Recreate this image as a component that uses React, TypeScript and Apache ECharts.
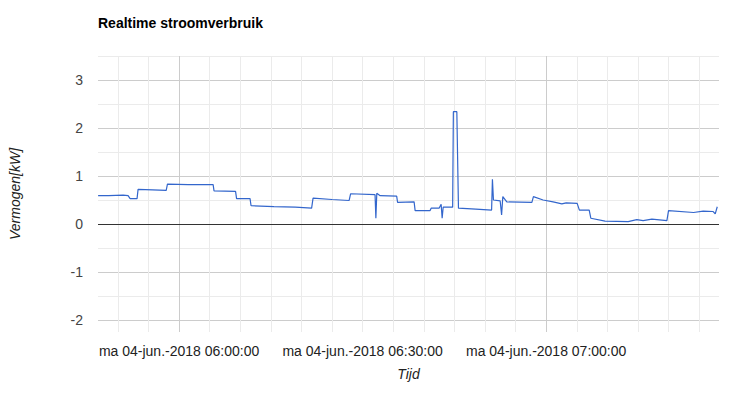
import React, { useEffect, useRef } from "react";
import * as echarts from "echarts";

const TITLE = "Realtime stroomverbruik";
const Y_NAME = "Vermogen[kW]";
const X_NAME = "Tijd";

// sample times (04-jun-2018) and power in kW
const TIMES = [
  "05:46:46", "05:48:30", "05:50:51", "05:51:40", "05:52:00", "05:53:08", "05:53:18", "05:55:40",
  "05:57:54", "05:58:06", "06:01:30", "06:05:34", "06:05:43", "06:09:14", "06:09:24", "06:11:36",
  "06:11:46", "06:15:30", "06:19:00", "06:21:40", "06:21:54", "06:25:00", "06:27:48", "06:28:02",
  "06:32:02", "06:32:10", "06:32:19", "06:32:52", "06:35:34", "06:35:43", "06:38:25", "06:38:35",
  "06:41:02", "06:41:12", "06:42:30", "06:42:50", "06:43:00", "06:43:10", "06:44:43", "06:44:50",
  "06:45:24", "06:45:40", "06:48:30", "06:51:05", "06:51:13", "06:51:23", "06:52:29", "06:52:43",
  "06:52:55", "06:53:34", "06:57:40", "06:57:55", "06:59:30", "07:01:08", "07:02:34", "07:03:16",
  "07:05:04", "07:05:26", "07:07:02", "07:07:18", "07:09:38", "07:13:24", "07:14:49", "07:15:51",
  "07:17:17", "07:19:44", "07:20:00", "07:24:05", "07:25:40", "07:27:18", "07:27:38", "07:27:58",
];
const POWER_KW = [
  0.59, 0.59, 0.6, 0.59, 0.53, 0.53, 0.72, 0.71,
  0.7, 0.83, 0.82, 0.82, 0.69, 0.68, 0.53, 0.53,
  0.38, 0.36, 0.35, 0.33, 0.54, 0.51, 0.49, 0.63,
  0.61, 0.12, 0.64, 0.59, 0.58, 0.45, 0.46, 0.28,
  0.28, 0.33, 0.33, 0.41, 0.12, 0.35, 0.35, 2.34,
  2.34, 0.33, 0.31, 0.29, 0.93, 0.5, 0.48, 0.19,
  0.57, 0.46, 0.45, 0.57, 0.5, 0.46, 0.42, 0.44,
  0.43, 0.29, 0.29, 0.12, 0.06, 0.05, 0.09, 0.07,
  0.1, 0.07, 0.28, 0.24, 0.27, 0.26, 0.21, 0.36,
];

const X_MIN = "05:46:45";
const X_MAX = "07:28:15";
const TICK_TIMES = ["06:00:00", "06:30:00", "07:00:00"];
const TICK_LABELS = [
  "ma 04-jun.-2018 06:00:00",
  "ma 04-jun.-2018 06:30:00",
  "ma 04-jun.-2018 07:00:00",
];
const Y_MIN = -2.25;
const Y_MAX = 3.5;

// minutes relative to 06:00
const toMin = (t: string) => {
  const [h, m, s] = t.split(":").map(Number);
  return h * 60 + m + s / 60 - 360;
};

const FONT = "'Liberation Sans', Arial, sans-serif";
const T = "rgba(0,0,0,0)";

export default function App() {
  const ref = useRef<HTMLDivElement>(null);
  useEffect(() => {
    if (!ref.current) return;
    const chart = echarts.init(ref.current, undefined, { renderer: "svg" });
    const xStep = 0.25; // quarter minute
    const xColors = Array.from({ length: 240 }, (_, i) =>
      i === 53 ? "#cccccc" : i % 20 === 13 ? "#ebebeb" : T
    );
    const tickMins = TICK_TIMES.map(toMin);
    const data = TIMES.map((t, i) => [toMin(t), POWER_KW[i]]);
    chart.setOption({
      animation: false,
      backgroundColor: "#ffffff",
      textStyle: { fontFamily: FONT },
      title: {
        text: TITLE,
        left: 98,
        top: 16,
        padding: 0,
        textStyle: { fontSize: 14, fontWeight: "bold", color: "#000", fontFamily: FONT },
      },
      grid: { left: 98, top: 56, width: 621, height: 276, containLabel: false },
      xAxis: {
        type: "value",
        min: toMin(X_MIN),
        max: toMin(X_MAX),
        interval: xStep,
        name: X_NAME,
        nameLocation: "middle",
        nameGap: 35,
        nameTextStyle: { fontSize: 14, fontStyle: "italic", color: "#222", fontFamily: FONT },
        axisLine: { show: false },
        axisTick: { show: false },
        axisLabel: {
          margin: 12,
          fontSize: 14,
          color: "#222",
          fontFamily: FONT,
          formatter: (v: number) => {
            const k = tickMins.findIndex((tm) => Math.abs(tm - v) < 1e-6);
            return k >= 0 ? TICK_LABELS[k] : "";
          },
        },
        splitLine: { show: true, lineStyle: { color: xColors, width: 1 } },
      },
      yAxis: {
        type: "value",
        min: Y_MIN,
        max: Y_MAX,
        interval: 0.25,
        name: Y_NAME,
        nameLocation: "middle",
        nameGap: 76,
        nameTextStyle: { fontSize: 14, fontStyle: "italic", color: "#222", fontFamily: FONT },
        axisLine: { show: false },
        axisTick: { show: false },
        axisLabel: {
          margin: 15,
          fontSize: 14,
          color: "#444",
          fontFamily: FONT,
          formatter: (v: number) =>
            Math.abs(v - Math.round(v)) < 1e-6 ? String(Math.round(v)) : "",
        },
        splitLine: {
          show: true,
          lineStyle: { color: [T, "#cccccc", T, "#ebebeb"], width: 1 },
        },
      },
      series: [
        {
          type: "line",
          data,
          showSymbol: false,
          lineStyle: { color: "#3366cc", width: 1.2 },
          itemStyle: { color: "#3366cc" },
          markLine: {
            silent: true,
            symbol: ["none", "none"],
            label: { show: false },
            lineStyle: { color: "#333333", width: 1, type: "solid" },
            data: [{ yAxis: 0 }],
          },
          z: 3,
        },
      ],
    });
    return () => chart.dispose();
  }, []);
  return (
    <div
      ref={ref}
      style={{ position: "fixed", left: 0, top: 0, width: 745, height: 400, background: "#fff" }}
    />
  );
}
